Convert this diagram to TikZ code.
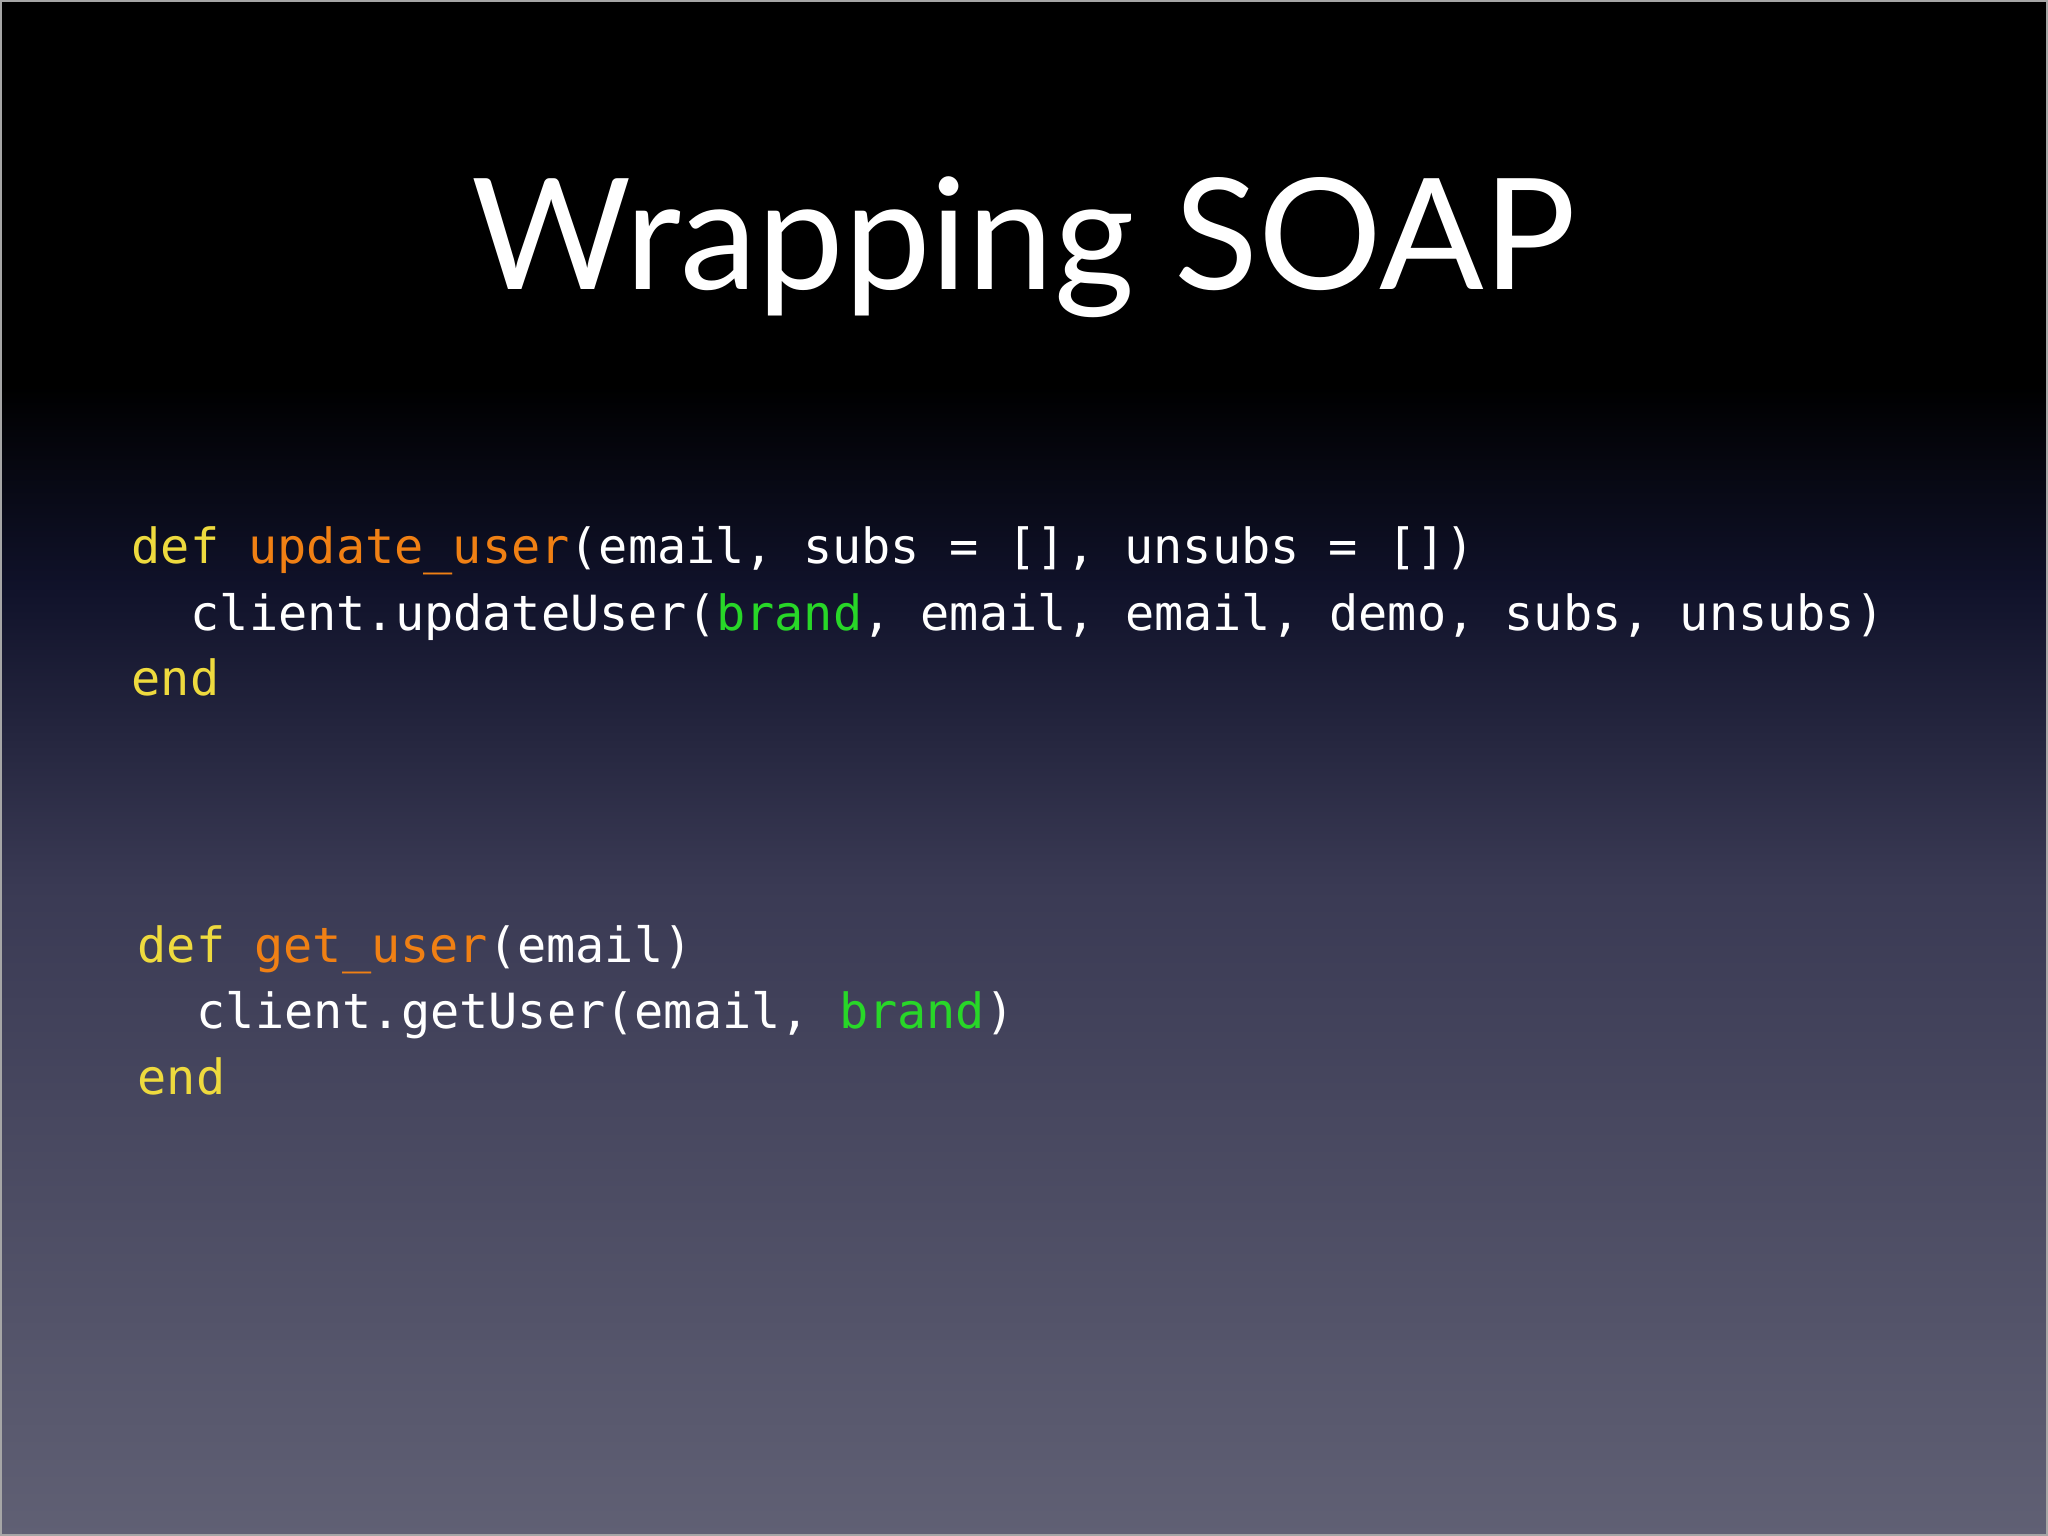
\documentclass[tikz,border=0pt]{standalone}
\usepackage{fontspec}
\setmainfont{Lato}
\setmonofont{DejaVu Sans Mono}
\definecolor{kw}{RGB}{238,218,62}
\definecolor{fn}{RGB}{240,128,20}
\definecolor{cst}{RGB}{40,215,40}
\definecolor{bgbot}{RGB}{96,96,116}
\definecolor{bgmid}{RGB}{58,58,84}
\definecolor{bgup}{RGB}{16,18,42}
\tikzset{codeline/.style={anchor=base west, inner sep=0pt, text=white, font=\fontsize{13.8pt}{16pt}\ttfamily},
title/.style={anchor=base, inner sep=0pt, text=white, font=\fontsize{44pt}{52pt}\selectfont}}
\begin{document}
\begin{tikzpicture}[x=1cm,y=1cm]
\useasboundingbox (0,0) rectangle (20.48,15.36);
\fill[bottom color=bgbot, top color=bgmid] (0,0) rectangle (20.48,6.5);
\fill[bottom color=bgmid, top color=bgup] (0,6.49) rectangle (20.48,9.5);
\fill[bottom color=bgup, top color=black] (0,9.49) rectangle (20.48,11.5);
\fill[black] (0,11.49) rectangle (20.48,15.36);
\draw[gray!70, line width=0.6pt] (0.01,0.01) rectangle (20.47,15.35);
\node[title] (t) at (10.24,12.46) {Wrapping SOAP};
\node[codeline] (a1) at (1.31,9.72) {\textcolor{kw}{def} \textcolor{fn}{update\_user}(email, subs = [], unsubs = [])};
\node[codeline] (a2) at (1.90,9.05) {client.updateUser(\textcolor{cst}{brand}, email, email, demo, subs, unsubs)};
\node[codeline] (a3) at (1.31,8.40) {\textcolor{kw}{end}};
\node[codeline] (b1) at (1.37,5.73) {\textcolor{kw}{def} \textcolor{fn}{get\_user}(email)};
\node[codeline] (b2) at (1.96,5.07) {client.getUser(email, \textcolor{cst}{brand})};
\node[codeline] (b3) at (1.37,4.41) {\textcolor{kw}{end}};
\end{tikzpicture}
\end{document}
